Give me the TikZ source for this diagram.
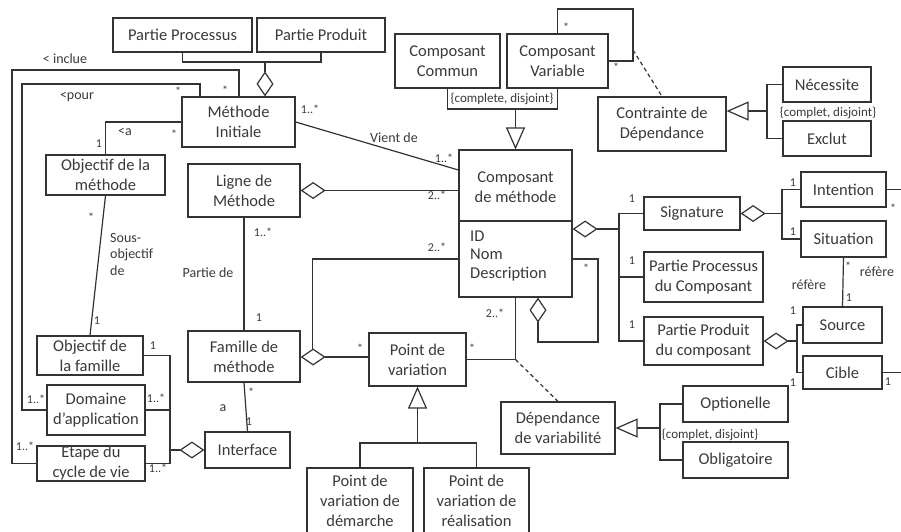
\documentclass[tikz,border=0pt]{standalone}
\usepackage{fontspec}
\setmainfont{Carlito}
\usetikzlibrary{arrows.meta,fit,calc}
\definecolor{ink}{HTML}{333333}
\definecolor{txt}{HTML}{3A3A3A}
\tikzset{
  box/.style={draw=ink, line width=1.2pt, inner sep=0pt, fill=white},
  lbl/.style={text=txt, align=center, inner sep=0pt, font=\fontsize{16.5}{20}\selectfont},
  mult/.style={text=txt, inner sep=0pt, font=\fontsize{12}{14}\selectfont},
  role/.style={text=txt, inner sep=0pt, align=left, font=\fontsize{14}{16.5}\selectfont},
  cons/.style={text=txt, inner sep=0pt, font=\fontsize{13}{15}\selectfont},
  con/.style={draw=ink, line width=1.2pt},
  agg/.style={con, -{Diamond[fill=white, length=25pt, width=17pt]}},
  gen/.style={con, -{Triangle[fill=white, length=22pt, width=19pt]}},
  dep/.style={con, dash pattern=on 4pt off 3pt},
}
\newcommand\ubox[6]{\node[box, fit={(#2,#3) (#4,#5)}, label={[lbl]center:{#6}}] (#1) {};}
\begin{document}
\begin{tikzpicture}[x=1pt,y=-1pt]
\fill[white] (0,0) rectangle (901,531);
\useasboundingbox (0,0) rectangle (901,531);
% ---------- boxes
\ubox{PP}{113}{18}{252}{52}{Partie Processus}
\ubox{PD}{257}{18}{385}{52}{Partie Produit}
\ubox{MI}{182}{97}{295}{147}{Méthode\\Initiale}
\ubox{OM}{46}{155}{165}{195}{Objectif de la\\méthode}
\ubox{LM}{188}{164}{300}{217}{Ligne de\\Méthode}
\ubox{CC}{395}{34}{500}{88}{Composant\\Commun}
\ubox{CV}{507}{34}{608}{88}{Composant\\Variable}
\ubox{CD}{598}{97}{726}{151}{Contrainte de\\Dépendance}
\ubox{NE}{783}{67}{871}{102}{Nécessite}
\ubox{EX}{783}{121}{871}{156}{Exclut}
\ubox{SG}{644}{197}{740}{230}{Signature}
\ubox{IN}{801}{172}{886}{207}{Intention}
\ubox{SI}{801}{221}{886}{257}{Situation}
\ubox{PPC}{644}{252}{763}{302}{Partie Processus\\du Composant}
\ubox{PPD}{644}{317}{763}{365}{Partie Produit\\du composant}
\ubox{SO}{803}{307}{882}{343}{Source}
\ubox{CI}{803}{356}{882}{389}{Cible}
\ubox{OF}{37}{336}{143}{375}{Objectif de\\la famille}
\ubox{FM}{188}{331}{300}{382}{Famille de\\méthode}
\ubox{DA}{47}{385}{145}{435}{Domaine\\d’application}
\ubox{EC}{37}{446}{145}{481}{Etape du\\cycle de vie}
\ubox{IF}{205}{432}{290}{468}{Interface}
\ubox{PV}{369}{333}{466}{386}{Point de\\variation}
\ubox{DV}{501}{402}{615}{454}{Dépendance\\de variabilité}
\ubox{OP}{683}{386}{788}{422}{Optionelle}
\ubox{OB}{683}{442}{788}{478}{Obligatoire}
\ubox{PVD}{307}{468}{413}{534}{Point de\\variation de\\démarche}
\ubox{PVR}{424}{468}{529}{534}{Point de\\variation de\\réalisation}
\node[box, fit={(459,150) (572,297)}] (CM) {};
\draw[con] (CM.west |- 0,221) -- (CM.east |- 0,221);
\node[lbl] (CMt) at (515.5,187) {Composant\\de méthode};
\node[lbl, anchor=west, align=left, font=\fontsize{16.5}{18.5}\selectfont] (CMa) at (470,256) {ID\\Nom\\Description};
% ---------- connectors
\coordinate (j1) at (265,62);
\draw[con] (PP.south) |- (j1) -| (PD.south);
\draw[agg] (j1) -- (MI.north -| j1);
\draw[con] (MI.north -| 200,0) |- (22,84) |- (DA.west);
\draw[con] (MI.north -| 239,0) |- (12,70) |- (EC.west);
\draw[con] (MI.west) -| (OM.north);
\draw[con] (OM.south) -- (OF.north);
\coordinate (ja) at (170,450);
\draw[con] (OF.east) -| (ja);
\draw[con] (EC.east) -| (ja);
\draw[con] (DA.east) -- (DA.east -| ja);
\draw[agg] (ja) -- (IF.west);
\draw[con] (FM.south) -- (IF.north);
\draw[con] (LM.south) -- (FM.north);
\draw[agg] (CM.west |- LM.east) -- (LM.east);
\draw[con] (MI.east) -- (CM.west |- 0,170);
\coordinate (jg) at (CM.north |- 0,109);
\draw[con] (CC.south) |- (jg) -| (CV.south);
\draw[gen] (jg) -- (CM.north);
\draw[con] (CV.north) |- (633,9) |- (CV.east);
\coordinate (jl) at (633,50);
\draw[dep] (jl) -- (CD.north);
\coordinate (jc) at (767,111);
\draw[gen] (jc) -- (CD.east |- jc);
\draw[con] (NE.west) -| (jc) |- (EX.west);
\coordinate (jr) at (619,229);
\draw[agg] (jr) -- (CM.east |- jr);
\draw[con] (SG.west) -| (jr);
\draw[con] (PPC.west) -| (jr);
\draw[con] (PPD.west) -| (jr);
\coordinate (js) at (SG.east -| 782,0);
\draw[agg] (js) -- (SG.east);
\draw[con] (IN.west) -| (js);
\draw[con] (SI.west) -| (js);
\coordinate (edgeI) at (IN.east -| 901,0);
\draw[con] (IN.east) -- (edgeI);
\draw[con] (SI.south) -- (SO.north);
\coordinate (jp) at (PPD.east -| 797,0);
\draw[agg] (jp) -- (PPD.east);
\draw[con] (SO.west) -| (jp);
\draw[con] (CI.west) -| (jp);
\coordinate (edgeC) at (CI.east -| 901,0);
\draw[con] (CI.east) -- (edgeC);
\draw[agg] (CM.east |- 0,259) -| (598,342) -| (CM.south -| 538,0);
\draw[agg] (PV.west |- 0,357) -- (FM.east |- 0,357);
\coordinate (jd) at (312.5,348.5);
\draw[con] (CM.west |- 0,259) -| (jd);
\draw[con] (CM.south) |- (PV.east);
\draw[dep] (CM.south |- PV.east) -- (DV.north);
\coordinate (jv) at (DV.east -| 660,0);
\draw[gen] (jv) -- (DV.east);
\draw[con] (OP.west) -| (jv) |- (OB.west);
\coordinate (jw) at (PV.south |- 0,443);
\draw[gen] (jw) -- (PV.south);
\draw[con] (PVD.north) |- (jw) -| (PVR.north);
% ---------- labels
\node[role] (t1) at (65,59) {< inclue};
\node[role] (t2) at (77,97) {<pour};
\node[mult] (t3) at (178,91) {*};
\node[mult] (t4) at (225,90) {*};
\node[role] (t5) at (125,132) {<a};
\node[mult] (t6) at (174,134) {*};
\node[mult] (t7) at (99,144) {1};
\node[mult] (t8) at (91,217) {*};
\node[role, anchor=north west] (t9) at (110,233) {Sous-\\objectif\\de};
\node[mult] (t10) at (97,321) {1};
\node[mult] (t11) at (263,232) {1..*};
\node[role] (t12) at (208,273) {Partie de};
\node[mult] (t13) at (259,318) {1};
\node[mult] (t14) at (153,346) {1};
\node[mult] (t15) at (36,399) {1..*};
\node[mult] (t16) at (156,398) {1..*};
\node[mult] (t17) at (25,446) {1..*};
\node[mult] (t18) at (158,468) {1..*};
\node[mult] (t19) at (251,392) {*};
\node[role] (t20) at (223,408) {a};
\node[mult] (t21) at (249,422) {1};
\node[mult] (t22) at (310,109) {1..*};
\node[role] (t23) at (394,138) {Vient de};
\node[mult] (t24) at (444,158) {1..*};
\node[mult] (t25) at (437,195) {2..*};
\node[mult] (t26) at (437,247) {2..*};
\node[mult] (t27) at (495,313) {2..*};
\node[mult] (t28) at (586,268) {*};
\node[mult] (t29) at (360,348) {*};
\node[mult] (t30) at (472,348) {*};
\node[cons] (t31) at (502,99) {\{complete, disjoint\}};
\node[mult] (t32) at (566,27) {*};
\node[mult] (t33) at (616,67) {*};
\node[cons] (t34) at (828,113) {\{complet, disjoint\}};
\node[mult] (t35) at (632,199) {1};
\node[mult] (t36) at (632,261) {1};
\node[mult] (t37) at (632,325) {1};
\node[mult] (t38) at (793,183) {1};
\node[mult] (t39) at (793,232) {1};
\node[mult] (t40) at (893,208) {*};
\node[mult] (t41) at (848,266) {*};
\node[role] (t42) at (877,272) {réfère};
\node[role] (t43) at (809,285) {réfère};
\node[mult] (t44) at (849,298) {1};
\node[mult] (t45) at (793,311) {1};
\node[mult] (t46) at (888,382) {1};
\node[mult] (t47) at (793,383) {1};
\node[cons] (t48) at (710,435) {\{complet, disjoint\}};
\end{tikzpicture}
\end{document}
